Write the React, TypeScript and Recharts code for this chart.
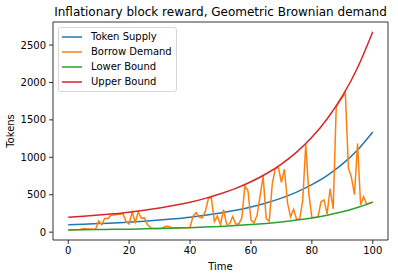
import { LineChart, Line, XAxis, YAxis, ReferenceLine } from "recharts"

// time steps for the simulated demand path
const time = Array.from({ length: 101 }, (_, i) => i)

const borrowDemand = [
  30, 31, 32, 33, 35, 48, 44, 42, 40, 42,
  150, 100, 185, 180, 225, 230, 235, 240, 245, 140,
  110, 270, 130, 272, 185, 190, 100, 60, 50, 48,
  48, 55, 78, 75, 55, 55, 56, 58, 58, 60,
  65, 215, 262, 200, 190, 275, 445, 462, 140, 215,
  100, 300, 105, 110, 210, 108, 110, 190, 615, 560,
  160, 125, 225, 480, 750, 180, 145, 645, 850, 870,
  665, 840, 390, 205, 305, 170, 175, 420, 1175, 515,
  195, 195, 200, 405, 430, 245, 580, 310, 1670, 1740,
  1800, 1855, 860, 730, 500, 1185, 365, 475, 370, 390,
  400,
]

// smooth curves, read every 5 steps
const curveTime = [0, 5, 10, 15, 20, 25, 30, 35, 40, 45, 50, 55, 60, 65, 70, 75, 80, 85, 90, 95, 100]
const tokenSupply = [100, 106, 114, 123, 134, 146, 161, 179, 200, 226, 256, 292, 336, 390, 455, 535, 634, 756, 908, 1098, 1338]
const lowerBound = [30, 32, 34, 37, 40, 44, 48, 54, 60, 68, 77, 88, 101, 117, 137, 161, 190, 227, 272, 330, 401]
const upperBound = [200, 213, 228, 246, 267, 293, 323, 358, 400, 451, 512, 585, 673, 780, 910, 1070, 1267, 1512, 1816, 2197, 2677]

const xTicks = [0, 20, 40, 60, 80, 100]
const yTicks = [0, 500, 1000, 1500, 2000, 2500]

const series = [
  { key: "supply", name: "Token Supply", color: "#1f77b4" },
  { key: "demand", name: "Borrow Demand", color: "#ff7f0e" },
  { key: "lower", name: "Lower Bound", color: "#2ca02c" },
  { key: "upper", name: "Upper Bound", color: "#d62728" },
]

const FONT = "DejaVu Sans, sans-serif"
const X_DOMAIN = [-5, 105]
const Y_DOMAIN = [-105, 2808]

const demandRows = time.map((t, i) => ({ t, demand: borrowDemand[i] }))
const curveRows = curveTime.map((t, i) => ({
  t,
  supply: tokenSupply[i],
  lower: lowerBound[i],
  upper: upperBound[i],
}))

function LegendBox() {
  return (
    <div
      style={{
        position: "absolute",
        left: 58,
        top: 27,
        border: "1px solid #d6d6d6",
        borderRadius: 3,
        background: "#fff",
        padding: "1px 4px 2px 3px",
        fontFamily: FONT,
        fontSize: 10,
        lineHeight: "15px",
        color: "#000",
      }}
    >
      {series.map((s) => (
        <div key={s.key} style={{ display: "flex", alignItems: "center", height: 15 }}>
          <svg width={20} height={4} style={{ marginRight: 9 }}>
            <line x1={0} x2={20} y1={2} y2={2} stroke={s.color} strokeWidth={1.5} />
          </svg>
          <span>{s.name}</span>
        </div>
      ))}
    </div>
  )
}

export default function App() {
  return (
    <div style={{ position: "absolute", left: 0, top: 0, width: 398, height: 278, background: "#fff" }}>
      <div
        style={{
          position: "absolute",
          left: 53,
          width: 335,
          top: 5,
          textAlign: "center",
          fontFamily: FONT,
          fontSize: 12,
          lineHeight: "14px",
          color: "#000",
          whiteSpace: "nowrap",
        }}
      >
        Inflationary block reward, Geometric Brownian demand
      </div>
      <LineChart width={398} height={278} margin={{ top: 22, right: 10, bottom: 0, left: 0 }}>
        <XAxis
          type="number"
          dataKey="t"
          domain={X_DOMAIN}
          ticks={xTicks}
          allowDataOverflow
          height={38}
          tickSize={4}
          tickMargin={3}
          stroke="#000"
          strokeWidth={0.8}
          tick={{ fontSize: 10, fill: "#000", fontFamily: FONT }}
          label={{
            content: (p: any) => {
              const vb = p.viewBox
              return (
                <text x={vb.x + vb.width / 2} y={vb.y + 30} textAnchor="middle" fontSize={10} fontFamily={FONT} fill="#000">
                  Time
                </text>
              )
            },
          }}
        />
        <YAxis
          type="number"
          domain={Y_DOMAIN}
          ticks={yTicks}
          allowDataOverflow
          width={53}
          tickSize={4}
          tickMargin={3}
          stroke="#000"
          strokeWidth={0.8}
          tick={{ fontSize: 10, fill: "#000", fontFamily: FONT }}
          label={{
            content: (p: any) => {
              const vb = p.viewBox
              const cx = 14
              const cy = vb.y + vb.height / 2
              return (
                <text x={cx} y={cy} transform={`rotate(-90, ${cx}, ${cy})`} textAnchor="middle" fontSize={10} fontFamily={FONT} fill="#000">
                  Tokens
                </text>
              )
            },
          }}
        />
        <ReferenceLine x={X_DOMAIN[1]} stroke="#000" strokeWidth={0.8} />
        <ReferenceLine y={Y_DOMAIN[1]} stroke="#000" strokeWidth={0.8} />
        <Line data={curveRows} dataKey="supply" name="Token Supply" type="monotone" stroke="#1f77b4" strokeWidth={1.5} dot={false} isAnimationActive={false} />
        <Line data={demandRows} dataKey="demand" name="Borrow Demand" type="linear" stroke="#ff7f0e" strokeWidth={1.5} dot={false} isAnimationActive={false} />
        <Line data={curveRows} dataKey="lower" name="Lower Bound" type="monotone" stroke="#2ca02c" strokeWidth={1.5} dot={false} isAnimationActive={false} />
        <Line data={curveRows} dataKey="upper" name="Upper Bound" type="monotone" stroke="#d62728" strokeWidth={1.5} dot={false} isAnimationActive={false} />
      </LineChart>
      <LegendBox />
    </div>
  )
}
